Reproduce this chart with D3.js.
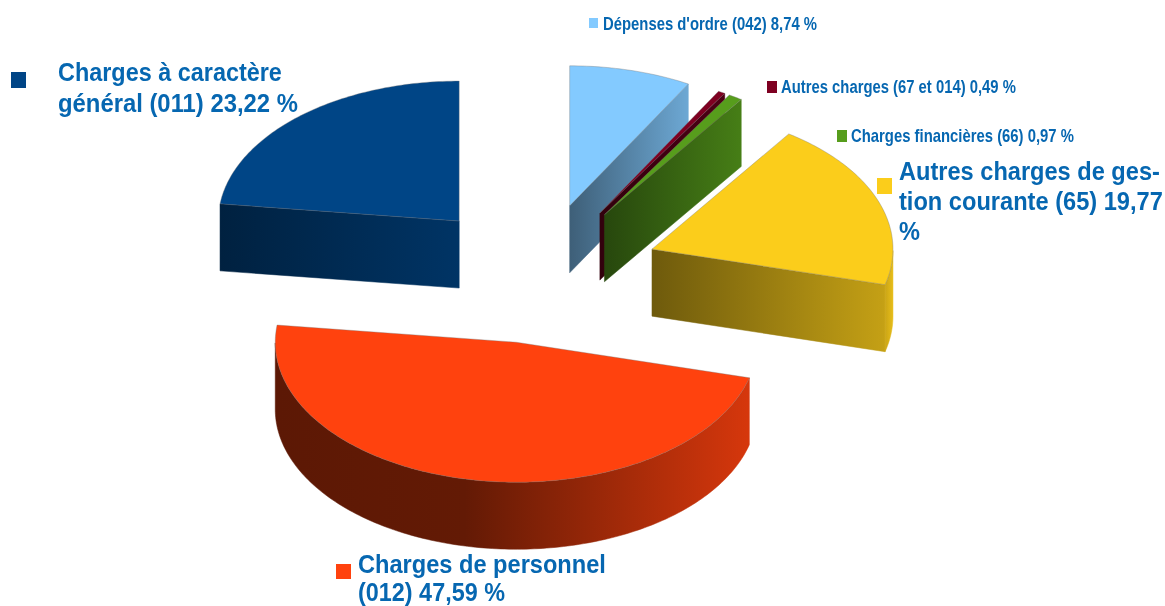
<!DOCTYPE html>
<html>
<head>
<meta charset="utf-8">
<script src="https://cdn.jsdelivr.net/npm/d3@7"></script>
<style>
    html, body { margin: 0; padding: 0; background: #fff; overflow: hidden; }
    svg { display: block; filter: blur(0.35px); }
    text { font-family: "Liberation Sans", Arial, sans-serif; font-weight: bold; fill: #0667b1; }
</style>
</head>
<body>
<div id="chart"></div>
<script>
"use strict";

var categories = ["Dépenses d'ordre (042)", "Autres charges (67 et 014)", "Charges financières (66)",
    "Autres charges de gestion courante (65)", "Charges de personnel (012)", "Charges à caractère général (011)"];
var values = [8.74, 0.49, 0.97, 19.77, 47.59, 23.22];
var colors = ["#83caff", "#7e0021", "#579d1c", "#fbcd1b", "#ff420e", "#004586"];

// label lines per slice
var labelLines = [
    ["Dépenses d'ordre (042) 8,74 %"],
    ["Autres charges (67 et 014) 0,49 %"],
    ["Charges financières (66) 0,97 %"],
    ["Autres charges de ges-", "tion courante (65) 19,77", "%"],
    ["Charges de personnel", "(012) 47,59 %"],
    ["Charges à caractère", "général (011) 23,22 %"]
];

var width = 1165, height = 606;

// pie geometry
var cx = 539, cy = 273.5, rx = 241, ry = 140, depth = 67, explode = 0.5;
var rad = Math.PI / 180;

// side shading: [offset, share of the base colour]
var shades = [
    [[0, 0.47], [1, 0.83]],
    [[0, 0.4], [1, 0.6]],
    [[0, 0.45], [1, 0.8]],
    [[0, 0.44], [0.96, 0.78], [1, 0.92]],
    [[0, 0.36], [0.4, 0.39], [1, 0.84]],
    [[0, 0.48], [1, 0.75]]
];

// where the label sits: swatch x/y/w/h, text x, first baseline, line step, font size, widths
var labelLayout = [
    { sw: [589, 18, 9, 10], x: 603, y: 30, step: 0, size: 18, widths: [214] },
    { sw: [767, 81, 10, 12], x: 781, y: 93, step: 0, size: 18, widths: [235] },
    { sw: [837, 130, 10, 12], x: 851, y: 142, step: 0, size: 18, widths: [223] },
    { sw: [877, 178, 15, 16], x: 899, y: 180, step: 30, size: 26.5, widths: [261, 264, 21] },
    { sw: [336, 564, 15, 15], x: 358, y: 573, step: 27.5, size: 25.5, widths: [248, 147] },
    { sw: [11, 72, 15, 16], x: 58, y: 81, step: 31, size: 26, widths: [224, 240] }
];

var x = d3.scaleLinear().domain([-1, 1]).range([cx - rx, cx + rx]);
var y = d3.scaleLinear().domain([-1, 1]).range([cy + ry, cy - ry]);

var svg = d3.select("#chart").append("svg")
    .attr("width", width)
    .attr("height", height);
var defs = svg.append("defs");

var arcs = d3.pie().sort(null).value(d => d)(values);

// the drawing leans the right half of the pie back by a couple of degrees
function lean(a) {
    return a - 2.4 * rad * Math.sqrt(Math.max(0, Math.sin(a)));
}

function drawSlice(i) {
    var d = arcs[i];
    var a0 = lean(d.startAngle), a1 = lean(d.endAngle);
    var mid = (a0 + a1) / 2;

    // slice apex, moved out along the middle of the slice
    var ox = explode * Math.sin(mid), oy = explode * Math.cos(mid);
    var pt = (a, drop) => [x(ox + Math.sin(a)), y(oy + Math.cos(a)) + (drop || 0)];
    var apex = drop => [x(ox), y(oy) + (drop || 0)];

    var steps = d3.range(a0, a1, rad).concat([a1]);
    var line = d3.line();
    var g = svg.append("g");

    // gradient over the width of the slice
    var xs = steps.map(a => pt(a)[0]).concat([apex()[0]]);
    var grad = defs.append("linearGradient")
        .attr("id", "side" + i)
        .attr("gradientUnits", "userSpaceOnUse")
        .attr("x1", d3.min(xs)).attr("x2", d3.max(xs))
        .attr("y1", 0).attr("y2", 0);
    shades[i].forEach(s => {
        grad.append("stop")
            .attr("offset", s[0])
            .attr("stop-color", d3.interpolateRgb("#000", colors[i])(s[1]));
    });

    var sideFace = pts => g.append("path")
        .attr("d", line(pts) + "Z")
        .attr("fill", "url(#side" + i + ")")
        .attr("stroke", "url(#side" + i + ")")
        .attr("stroke-width", 0.5);

    // flat cut faces, only the ones turned towards the viewer
    if (Math.sin(a0) < 0) sideFace([apex(), pt(a0), pt(a0, depth), apex(depth)]);
    if (Math.sin(a1) > 0) sideFace([apex(), pt(a1), pt(a1, depth), apex(depth)]);

    // outer rim, front half only
    var rim = steps.filter(a => a >= 90 * rad && a <= 270 * rad);
    if (rim.length > 1) {
        sideFace(rim.map(a => pt(a)).concat(rim.slice().reverse().map(a => pt(a, depth))));
    }

    // top
    g.append("path")
        .attr("d", line([apex()].concat(steps.map(a => pt(a)))) + "Z")
        .attr("fill", colors[i])
        .attr("stroke", "#777")
        .attr("stroke-opacity", 0.6)
        .attr("stroke-width", 0.6);
}

// back to front
[0, 1, 2, 3, 5, 4].forEach(drawSlice);

// labels, squeezed sideways to the reference widths
labelLines.forEach((lines, i) => {
    var l = labelLayout[i];
    svg.append("rect")
        .attr("x", l.sw[0]).attr("y", l.sw[1])
        .attr("width", l.sw[2]).attr("height", l.sw[3])
        .attr("fill", colors[i]);
    svg.selectAll(null)
        .data(lines)
        .join("text")
        .attr("font-size", l.size)
        .text(t => t)
        .attr("transform", function (t, j) {
            var sx = Math.min(1, l.widths[j] / this.getComputedTextLength());
            return `translate(${l.x},${l.y + j * l.step}) scale(${sx},1)`;
        });
});
</script>
</body>
</html>
